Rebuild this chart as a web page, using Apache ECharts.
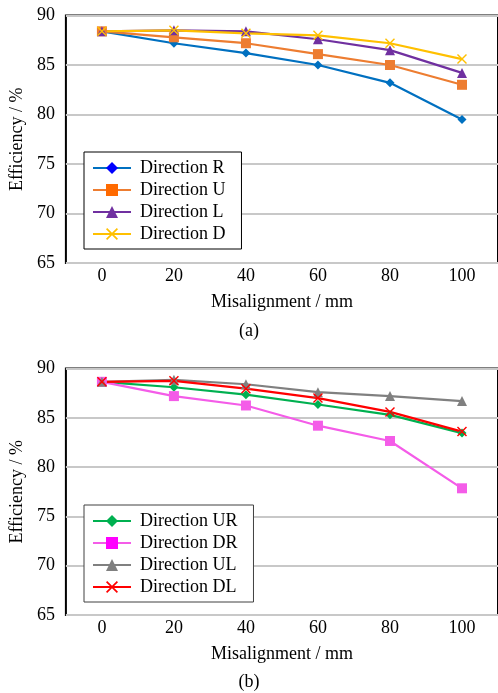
<!DOCTYPE html>
<html>
<head>
<meta charset="utf-8">
<script src="https://cdn.jsdelivr.net/npm/echarts@6/dist/echarts.min.js"></script>
<style>
  html, body { margin: 0; padding: 0; background: #fff; }
  #chart { width: 498px; height: 693px; }
</style>
</head>
<body>
<div id="chart"></div>
<script>
// misalignment categories (mm)
var misalign = ['0', '20', '40', '60', '80', '100'];

// (a) efficiency %
var dirR = [88.4, 87.2, 86.2, 85.0, 83.2, 79.5];
var dirU = [88.4, 87.8, 87.2, 86.1, 85.0, 83.0];
var dirL = [88.4, 88.5, 88.4, 87.6, 86.5, 84.2];
var dirD = [88.4, 88.5, 88.2, 88.0, 87.2, 85.6];

// (b) efficiency %
var dirUR = [88.65, 88.1, 87.35, 86.35, 85.3, 83.45];
var dirDR = [88.65, 87.2, 86.25, 84.2, 82.65, 77.85];
var dirUL = [88.65, 88.85, 88.4, 87.6, 87.2, 86.7];
var dirDL = [88.65, 88.75, 87.95, 87.0, 85.6, 83.6];

var crossPath = 'path://M2,0 L10,8 L18,0 L20,2 L12,10 L20,18 L18,20 L10,12 L2,20 L0,18 L8,10 L0,2 Z';
var txtFont = 'Liberation Serif';

function mkSeries(name, data, color, symbol, size, idx) {
  return {
    name: name,
    type: 'line',
    xAxisIndex: idx,
    yAxisIndex: idx,
    data: data,
    symbol: symbol,
    symbolSize: size,
    lineStyle: { color: color, width: 2.2 },
    itemStyle: { color: color },
    animation: false
  };
}

function mkX(grid) {
  return {
    type: 'category',
    gridIndex: grid,
    data: misalign,
    boundaryGap: true,
    name: 'Misalignment / mm',
    nameLocation: 'middle',
    nameGap: 30,
    nameTextStyle: { fontFamily: txtFont, fontSize: 18, color: '#000' },
    axisLine: { show: false },
    axisTick: { show: false },
    axisLabel: { fontFamily: txtFont, fontSize: 18, color: '#000', margin: 4 },
    splitLine: { show: false }
  };
}

function mkY(grid) {
  return {
    type: 'value',
    gridIndex: grid,
    min: 65,
    max: 90,
    interval: 5,
    name: 'Efficiency / %',
    nameLocation: 'middle',
    nameGap: 37,
    nameTextStyle: { fontFamily: txtFont, fontSize: 18, color: '#000' },
    axisLine: { show: false },
    axisTick: { show: false },
    axisLabel: { fontFamily: txtFont, fontSize: 18, color: '#000', margin: 11 },
    splitLine: { lineStyle: { color: '#c8c8c8', width: 2 } }
  };
}

function mkLegend(items, top, border) {
  return {
    orient: 'vertical',
    left: 84,
    top: top,
    data: items,
    itemWidth: 38,
    itemHeight: 15,
    itemGap: 4,
    padding: [7, 16, 6, 8],
    borderColor: border,
    borderWidth: 1,
    backgroundColor: '#fff',
    textStyle: { fontFamily: txtFont, fontSize: 18, lineHeight: 18, color: '#000', padding: [0, 0, 0, 4] }
  };
}

var chart = echarts.init(document.getElementById('chart'));
chart.setOption({
  backgroundColor: '#fff',
  animation: false,
  title: [
    { text: '(a)', left: 'center', top: 322, padding: 0, textStyle: { fontFamily: txtFont, fontSize: 18, fontWeight: 'normal', color: '#000' } },
    { text: '(b)', left: 'center', top: 673, padding: 0, textStyle: { fontFamily: txtFont, fontSize: 18, fontWeight: 'normal', color: '#000' } }
  ],
  grid: [
    { left: 65, top: 15.5, width: 437, height: 247.5, show: true, borderColor: '#000', borderWidth: 2, backgroundColor: 'transparent' },
    { left: 65, top: 368.5, width: 437, height: 246.5, show: true, borderColor: '#000', borderWidth: 2, backgroundColor: 'transparent' }
  ],
  xAxis: [mkX(0), mkX(1)],
  yAxis: [mkY(0), mkY(1)],
  legend: [
    mkLegend([
      { name: 'Direction R', itemStyle: { color: '#0000FF' } },
      { name: 'Direction U', itemStyle: { color: '#FF6A00' } },
      { name: 'Direction L' },
      { name: 'Direction D' }
    ], 152, '#000'),
    mkLegend([
      { name: 'Direction UR' },
      { name: 'Direction DR', itemStyle: { color: '#FF00FF' } },
      { name: 'Direction UL' },
      { name: 'Direction DL' }
    ], 505, '#404040')
  ],
  series: [
    mkSeries('Direction R', dirR, '#0070C0', 'diamond', 9, 0),
    mkSeries('Direction U', dirU, '#ED7D31', 'rect', 10, 0),
    mkSeries('Direction L', dirL, '#7030A0', 'triangle', 10, 0),
    mkSeries('Direction D', dirD, '#FFC000', crossPath, 10, 0),
    mkSeries('Direction UR', dirUR, '#00B050', 'diamond', 9, 1),
    mkSeries('Direction DR', dirDR, '#F45CE8', 'rect', 10, 1),
    mkSeries('Direction UL', dirUL, '#808080', 'triangle', 10, 1),
    mkSeries('Direction DL', dirDL, '#FF0000', crossPath, 10, 1)
  ]
});
</script>
</body>
</html>
